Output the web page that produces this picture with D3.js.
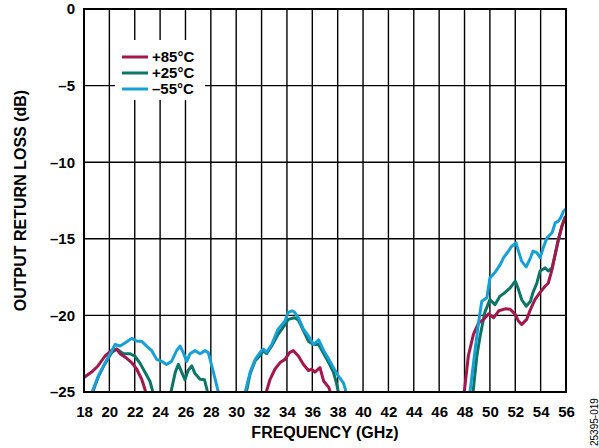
<!DOCTYPE html>
<html><head><meta charset="utf-8">
<script src="https://cdn.jsdelivr.net/npm/d3@7"></script>
<style>body{margin:0;background:#fff}svg{display:block}text{font-family:"Liberation Sans",Arial,sans-serif}</style>
</head><body><svg id="c" width="599" height="448"></svg>
<script>
const xTicks = [18,20,22,24,26,28,30,32,34,36,38,40,42,44,46,48,50,52,54,56];
const yTicks = [0,-5,-10,-15,-20,-25];
const seriesNames = ["+85°C","+25°C","–55°C"];
const seriesColors = ["#a3174d","#0b7568","#18a0d6"];

// +25°C (teal) segments
const teal1 = [[18.6,-25.2],[19.13,-24.0],[19.66,-23.15],[20.2,-22.4],[20.6,-22.2],[21.1,-22.5],[21.6,-22.5],[22.0,-22.65],[22.4,-23.1],[22.8,-23.7],[23.2,-24.3],[23.5,-25.2]];
const teal2 = [[24.8,-25.2],[25.2,-23.7],[25.44,-23.2],[25.7,-23.7],[25.96,-24.2],[26.2,-23.6],[26.5,-23.3],[26.75,-23.8],[27.15,-24.17],[27.5,-24.2],[27.8,-25.2]];
const teal3 = [[30.75,-25.2],[31.1,-23.8],[31.5,-22.95],[31.9,-22.6],[32.14,-22.3],[32.4,-22.5],[32.8,-22.0],[33.3,-21.24],[33.85,-20.6],[34.1,-20.26],[34.6,-20.15],[34.9,-20.3],[35.3,-21.0],[35.7,-21.7],[36.1,-21.9],[36.5,-21.9],[36.9,-22.5],[37.3,-23.1],[37.66,-23.7],[37.9,-24.4],[38.1,-25.2]];
const teal4 = [[48.65,-25.2],[48.97,-22.65],[49.23,-21.35],[49.6,-19.8],[50.0,-18.96],[50.4,-19.3],[50.8,-18.74],[51.2,-18.5],[51.6,-18.2],[52.0,-17.76],[52.25,-18.3],[52.5,-18.96],[52.86,-19.4],[53.2,-19.07],[53.4,-18.5],[53.7,-17.9],[53.96,-17.1],[54.35,-16.9],[54.6,-17.1],[54.9,-16.9],[55.15,-16.0],[55.4,-15.05],[55.67,-14.2],[55.93,-13.6]];

// +85°C (red) segments
const red1 = [[18.0,-24.05],[18.6,-23.7],[19.1,-23.3],[19.66,-22.65],[20.2,-22.26],[20.58,-22.2],[20.84,-22.5],[21.37,-22.8],[21.76,-23.08],[22.15,-23.5],[22.55,-24.17],[22.8,-24.8],[22.9,-25.2]];
const red2 = [[32.3,-25.2],[32.67,-24.17],[33.06,-23.5],[33.46,-23.08],[33.85,-22.87],[34.2,-22.43],[34.5,-22.3],[34.9,-22.65],[35.3,-23.2],[35.7,-23.6],[35.95,-23.5],[36.2,-23.7],[36.6,-23.4],[36.9,-24.3],[37.3,-24.7],[37.5,-25.2]];
const red3 = [[47.95,-25.2],[48.3,-22.65],[48.7,-21.24],[49.1,-20.5],[49.5,-20.26],[49.9,-19.9],[50.3,-20.15],[50.7,-19.7],[51.2,-19.57],[51.6,-19.6],[52.0,-19.93],[52.25,-20.37],[52.5,-20.6],[52.9,-20.26],[53.2,-19.6],[53.56,-18.96],[53.96,-18.5],[54.35,-18.1],[54.6,-17.9],[54.9,-17.0],[55.15,-16.0],[55.4,-15.05],[55.67,-14.2],[55.93,-13.6]];

// –55°C (blue) segments
const blue1 = [[18.55,-25.2],[19.13,-23.95],[19.66,-23.1],[20.2,-22.3],[20.45,-21.9],[20.84,-22.0],[21.23,-21.8],[21.76,-21.5],[22.15,-21.67],[22.55,-21.7],[22.94,-22.0],[23.34,-22.3],[23.73,-22.87],[24.13,-23.0],[24.5,-23.2],[24.9,-23.0],[25.3,-22.3],[25.57,-22.0],[25.83,-22.43],[26.1,-23.0],[26.36,-22.5],[26.75,-22.3],[27.15,-22.5],[27.54,-22.3],[27.8,-22.43],[28.2,-23.7],[28.65,-25.2]];
const blue2 = [[30.65,-25.2],[31.1,-23.7],[31.5,-22.87],[31.9,-22.4],[32.14,-22.2],[32.4,-22.4],[32.8,-21.9],[33.3,-20.9],[33.85,-20.37],[34.1,-19.8],[34.4,-19.7],[34.6,-19.8],[34.9,-20.15],[35.3,-20.9],[35.7,-21.35],[36.1,-21.9],[36.5,-21.6],[36.9,-22.3],[37.3,-22.87],[37.66,-23.4],[38.05,-23.95],[38.45,-24.4],[38.6,-24.8],[38.65,-25.2]];
const blue3 = [[48.4,-25.2],[48.84,-22.2],[49.1,-20.5],[49.36,-19.07],[49.76,-18.85],[50.0,-17.55],[50.4,-17.2],[50.8,-16.7],[51.07,-16.24],[51.47,-15.8],[51.7,-15.5],[52.06,-15.27],[52.25,-15.8],[52.5,-16.46],[52.86,-16.83],[53.2,-16.24],[53.4,-15.8],[53.7,-15.9],[53.96,-16.24],[54.2,-15.6],[54.5,-14.94],[54.9,-14.6],[55.15,-13.96],[55.4,-13.85],[55.6,-13.6],[55.8,-13.2],[55.93,-13.1]];

const svg = d3.select("#c");
const L = 84, R = 566, T = 9, B = 392;
const x = d3.scaleLinear().domain([18,56]).range([L,R]);
const y = d3.scaleLinear().domain([-25,0]).range([B,T]);

// grid
const grid = svg.append("g");
grid.selectAll("line.v").data(xTicks.slice(1,-1)).join("line")
  .attr("x1",d=>x(d)).attr("x2",d=>x(d)).attr("y1",T).attr("y2",B)
  .attr("stroke","#000").attr("stroke-width",1.4);
grid.selectAll("line.h").data(yTicks.slice(1,-1)).join("line")
  .attr("x1",L).attr("x2",R).attr("y1",d=>y(d)).attr("y2",d=>y(d))
  .attr("stroke","#000").attr("stroke-width",1.4);

// legend background
svg.append("rect").attr("x",115).attr("y",40).attr("width",90).attr("height",60).attr("fill","#fff");

// clip
svg.append("clipPath").attr("id","clip").append("rect").attr("x",L).attr("y",T).attr("width",R-L).attr("height",B-T);

const line = d3.line().x(d=>x(d[0])).y(d=>y(d[1]));
const layers = [
  {segs:[teal1,teal2,teal3,teal4], c:seriesColors[1]},
  {segs:[red1,red2,red3], c:seriesColors[0]},
  {segs:[blue1,blue2,blue3], c:seriesColors[2]}
];
const pg = svg.append("g").attr("clip-path","url(#clip)");
layers.forEach(l=>{
  l.segs.forEach(s=>{
    pg.append("path").attr("d",line(s)).attr("fill","none").attr("stroke",l.c)
      .attr("stroke-width",3).attr("stroke-linejoin","round").attr("stroke-linecap","round");
  });
});

// border
svg.append("rect").attr("x",L).attr("y",T).attr("width",R-L).attr("height",B-T)
  .attr("fill","none").attr("stroke","#000").attr("stroke-width",2);

// axes labels
const xa = svg.append("g").attr("transform",`translate(0,${B})`)
  .call(d3.axisBottom(x).tickValues(xTicks).tickSize(0).tickPadding(14).tickFormat(d3.format("d")));
xa.select(".domain").remove();
xa.selectAll("text").attr("font-size",15).attr("font-weight","bold").attr("fill","#000")
  .attr("font-family","'Liberation Sans',Arial,sans-serif");

const ya = svg.append("g").attr("transform",`translate(${L},0)`)
  .call(d3.axisLeft(y).tickValues(yTicks).tickSize(0).tickPadding(9).tickFormat(d=>d<0?"–"+Math.abs(d):String(d)));
ya.select(".domain").remove();
ya.selectAll("text").attr("font-size",15).attr("font-weight","bold").attr("fill","#000")
  .attr("font-family","'Liberation Sans',Arial,sans-serif");

svg.append("text").attr("x",(L+R)/2).attr("y",438).attr("text-anchor","middle")
  .attr("font-size",16).attr("font-weight","bold").text("FREQUENCY (GHz)");
svg.append("text").attr("transform",`translate(26,${(T+B)/2}) rotate(-90)`).attr("text-anchor","middle")
  .attr("font-size",16).attr("font-weight","bold").text("OUTPUT RETURN LOSS (dB)");
svg.append("text").attr("transform","translate(598,446) rotate(-90)").attr("text-anchor","start")
  .attr("font-size",10).text("25395-019");

// legend
const lg = svg.append("g");
seriesNames.forEach((n,i)=>{
  const yy = 57 + i*16;
  lg.append("line").attr("x1",122).attr("x2",148).attr("y1",yy).attr("y2",yy)
    .attr("stroke",seriesColors[i]).attr("stroke-width",3);
  lg.append("text").attr("x",152).attr("y",yy+5).attr("font-size",15).attr("font-weight","bold").text(n);
});
</script></body></html>
